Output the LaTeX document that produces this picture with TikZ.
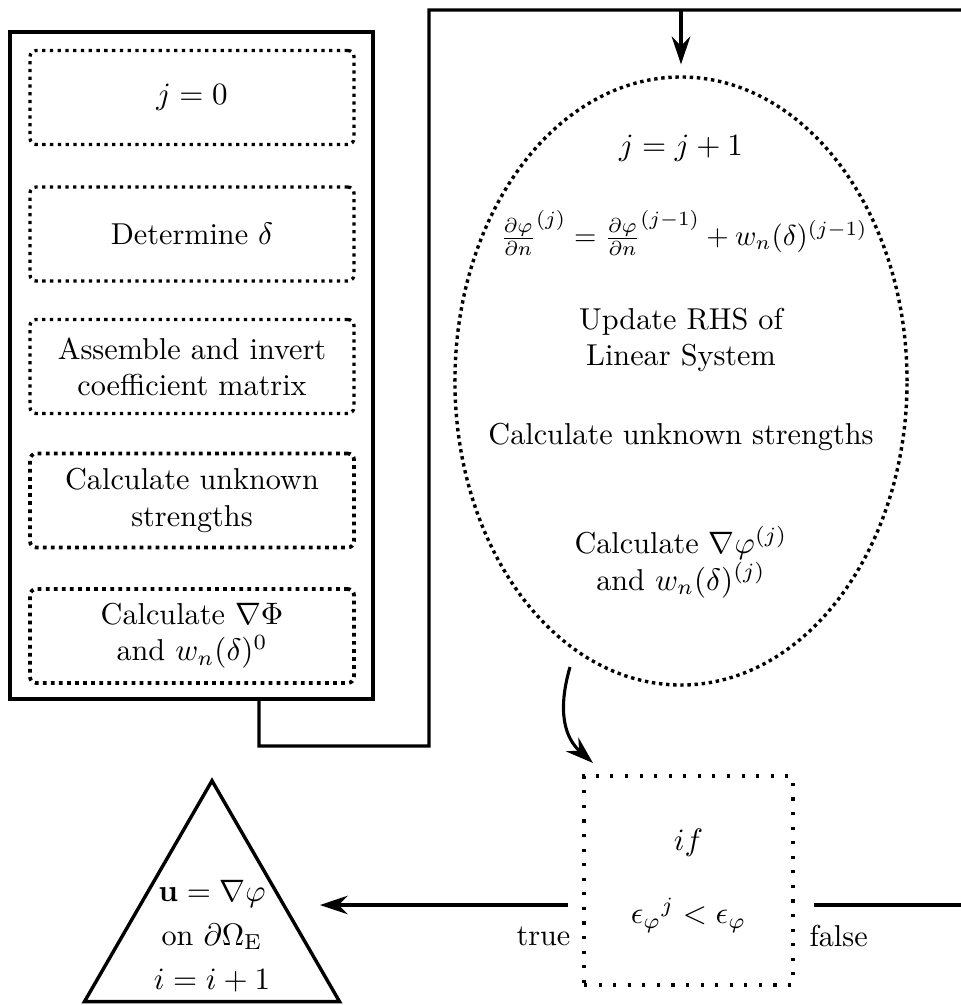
\documentclass[tikz,border=0pt]{standalone}
\usepackage{amsmath}
\usepackage{graphicx}
\usetikzlibrary{shapes.geometric,arrows.meta,calc}
\begin{document}
\begin{tikzpicture}[x=0.3225pt,y=-0.3225pt,
  every node/.style={font=\fontsize{9.75pt}{11.7pt}\selectfont},
  solidbox/.style={draw,line width=1.1pt,inner sep=0pt},
  dotbox/.style={draw,line width=1.05pt,dash pattern=on 1.05pt off 1.45pt,rounded corners=2pt,
    minimum width=104.5pt,minimum height=30.3pt,align=center,inner sep=0pt},
  conn/.style={line width=1pt},
  arr/.style={line width=1pt,-{Stealth[length=9pt,width=6pt,inset=3pt]}},
  lbl/.style={inner sep=0pt,align=center}]
\clip (0,0) rectangle (961,1005);
% left block
\node[solidbox,minimum width=117.1pt,minimum height=215.1pt] (outer) at (191.5,365.5) {};
\node[dotbox] (b1) at (192,97.5) {$j=0$};
\node[dotbox] (b2) at (192,234) {Determine $\delta$};
\node[dotbox] (b3) at (192,366.5) {Assemble and invert\\coefficient matrix};
\node[dotbox,line width=1.2pt,dash pattern=on 1.2pt off 1.4pt] (b4) at (192,500.5) {Calculate unknown\\strengths};
\node[dotbox,line width=1.2pt,dash pattern=on 1.2pt off 1.4pt] (b5) at (192,636) {Calculate $\nabla\Phi$\\and $w_n(\delta)^0$};
% ellipse
\node[draw,ellipse,line width=1.1pt,dash pattern=on 1.1pt off 1.2pt,minimum width=145.8pt,
  minimum height=196.1pt,inner sep=0pt] (ell) at (681,381) {};
\node[lbl] (e1) at (681,148) {$j=j+1$};
\node[lbl] (e2) at (684,233) {\scalebox{0.93}{$\frac{\partial\varphi}{\partial n}^{(j)}=\frac{\partial\varphi}{\partial n}^{(j-1)}+w_n(\delta)^{(j-1)}$}};
\node[lbl] (e3) at (681,340) {Update RHS of\\Linear System};
\node[lbl] (e4) at (681,437) {Calculate unknown strengths};
\node[lbl] (e5) at (681,562) {Calculate $\nabla\varphi^{(j)}$\\and $w_n(\delta)^{(j)}$};
% decision box
\node[draw,line width=1pt,dash pattern=on 1pt off 3.7pt,minimum width=67.4pt,
  minimum height=67.4pt,inner sep=0pt] (ifb) at (688.5,880.5) {};
\node[lbl] (if1) at (688.5,843) {$if$};
\node[lbl] (if2) at (688.5,915) {${\epsilon_\varphi}^j<\epsilon_\varphi$};
% triangle
\node[draw,line width=1.1pt,regular polygon,regular polygon sides=3,minimum size=95pt,
  inner sep=0pt,align=center] (tri) at (212,928) {};
\node[lbl] (t1) at (212,936) {$\mathbf{u}=\nabla\varphi$\\[2.5pt]on $\partial\Omega_{\mathrm{E}}$\\[2.5pt]$i=i+1$};
% labels
\node[lbl,anchor=east] (ltrue) at (571,936) {true};
\node[lbl,anchor=west] (lfalse) at (809,936) {false};
% connectors
\coordinate (oA) at ($(outer.south)+(67.5,0)$);
\coordinate (oB) at (259,746);
\coordinate (oC) at (429,746);
\coordinate (topL) at (429,10);
\coordinate (topR) at (990,10);
\coordinate (tj) at (ell.north |- topL);
\draw[conn] (oA) -- (oB) -- (oC) -- (topL) -- (topR);
\draw[arr,shorten >=3.5pt] (tj) -- (ell.north);
\coordinate (fS) at (814,905);
\coordinate (fE) at (990,905);
\draw[conn] (fS) -- (fE) -- (topR);
\coordinate (tS) at (568,905);
\coordinate (tE) at (320,905);
\draw[arr] (tS) -- (tE);
\coordinate (cS) at (570,667);
\coordinate (cE) at (593,763);
\draw[arr] (cS) .. controls (557,712) and (565,738) .. (cE);
\end{tikzpicture}
\end{document}
